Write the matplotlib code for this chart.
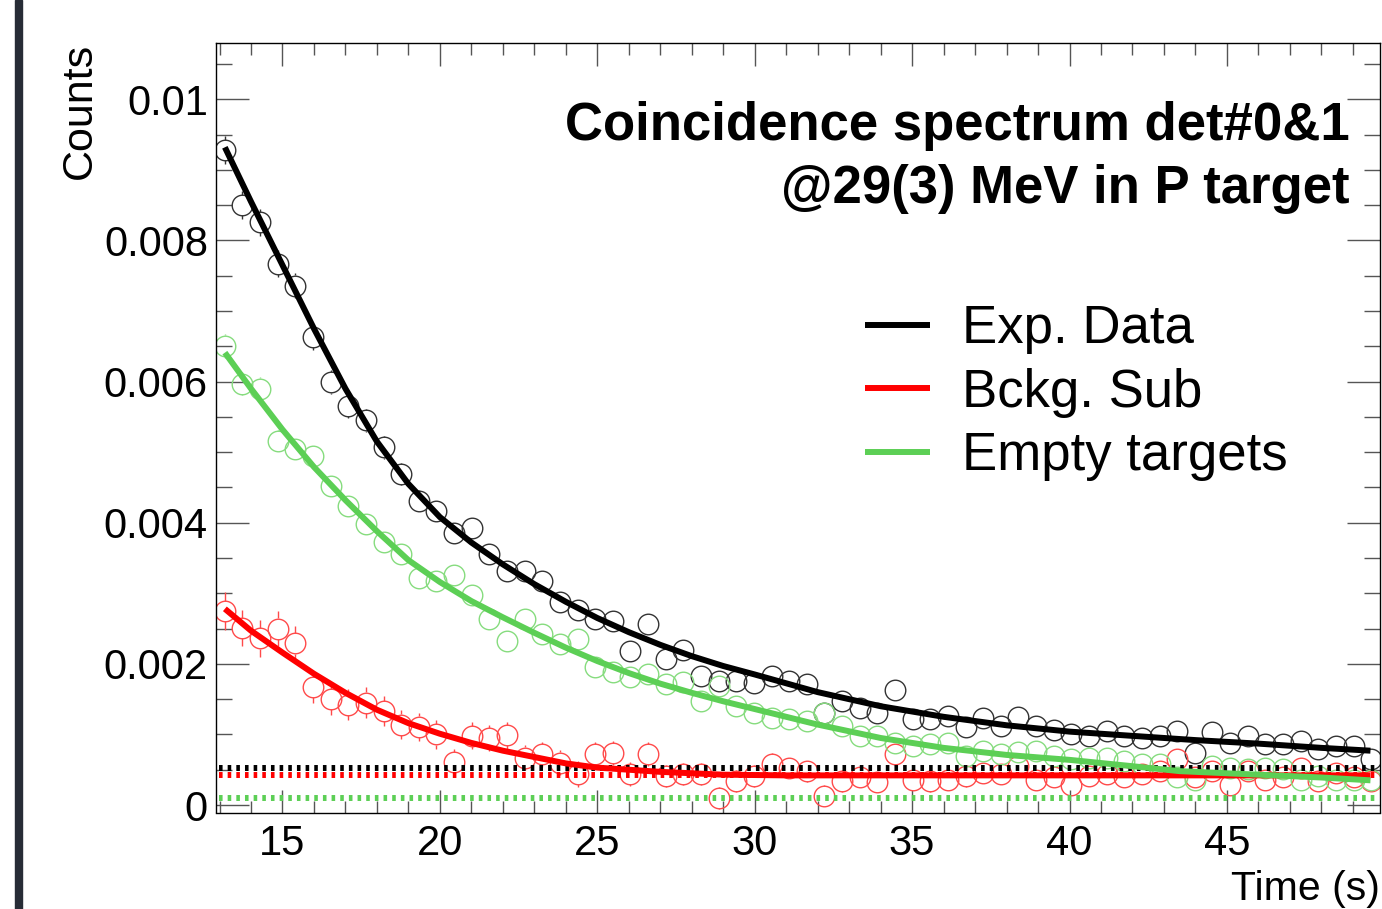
import numpy as np
import matplotlib
matplotlib.use("Agg")
import matplotlib.pyplot as plt
from matplotlib.lines import Line2D
from matplotlib.patches import Rectangle
from matplotlib.ticker import MultipleLocator, FuncFormatter

plt.rcParams['font.family'] = ['Liberation Sans', 'DejaVu Sans']

# histogram binning of the time axis (s)
t_lo, t_hi, n_bins = 12.888, 49.863, 66

# Exp. Data (black)
exp_counts = [0.00928, 0.00850, 0.00826, 0.00767, 0.00736, 0.00663, 0.00599, 0.00566, 0.00545, 0.00507,
              0.00469, 0.00431, 0.00417, 0.00386, 0.00392, 0.00356, 0.00332, 0.00331, 0.00318, 0.00288,
              0.00276, 0.00263, 0.00261, 0.00218, 0.00256, 0.00207, 0.00220, 0.00183, 0.00176, 0.00176,
              0.00173, 0.00183, 0.00176, 0.00171, 0.00131, 0.00148, 0.00138, 0.00131, 0.00163, 0.00122,
              0.00122, 0.00126, 0.00110, 0.00124, 0.00112, 0.00125, 0.00112, 0.00107, 0.00100, 0.00098,
              0.00105, 0.00098, 0.00095, 0.00098, 0.00105, 0.00074, 0.00103, 0.00088, 0.00098, 0.00086,
              0.00086, 0.00091, 0.00079, 0.00084, 0.00084, 0.00065]
exp_err = [0.00020, 0.00020, 0.00019, 0.00019, 0.00018, 0.00018, 0.00017, 0.00017, 0.00016, 0.00016,
           0.00015, 0.00015, 0.00015, 0.00014, 0.00014, 0.00014, 0.00013, 0.00013, 0.00013, 0.00013,
           0.00012, 0.00012, 0.00012, 0.00012, 0.00012, 0.00011, 0.00011, 0.00011, 0.00011, 0.00011,
           0.00011, 0.00011, 0.00011, 0.00010, 0.00010, 0.00010, 0.00010, 0.00010, 0.00010, 0.00010,
           0.00010, 0.00010, 0.00009, 0.00009, 0.00009, 0.00009, 0.00009, 0.00009, 0.00009, 0.00009,
           0.00009, 0.00009, 0.00009, 0.00009, 0.00009, 0.00008, 0.00009, 0.00008, 0.00009, 0.00008,
           0.00008, 0.00008, 0.00008, 0.00008, 0.00008, 0.00007]

# Bckg. Sub (red)
sub_counts = [0.00275, 0.00251, 0.00236, 0.00250, 0.00229, 0.00167, 0.00150, 0.00142, 0.00145, 0.00133,
              0.00114, 0.00111, 0.00100, 0.00061, 0.00098, 0.00095, 0.00099, 0.00067, 0.00072, 0.00060,
              0.00044, 0.00072, 0.00074, 0.00044, 0.00072, 0.00041, 0.00044, 0.00044, 0.00010, 0.00034,
              0.00041, 0.00058, 0.00053, 0.00048, 0.00013, 0.00034, 0.00039, 0.00032, 0.00072, 0.00036,
              0.00034, 0.00036, 0.00041, 0.00046, 0.00044, 0.00055, 0.00036, 0.00039, 0.00029, 0.00041,
              0.00044, 0.00039, 0.00044, 0.00048, 0.00065, 0.00039, 0.00048, 0.00029, 0.00048, 0.00036,
              0.00039, 0.00053, 0.00034, 0.00046, 0.00039, 0.00034]
sub_err = [0.00027, 0.00026, 0.00026, 0.00025, 0.00025, 0.00023, 0.00022, 0.00022, 0.00022, 0.00021,
           0.00021, 0.00020, 0.00020, 0.00019, 0.00019, 0.00019, 0.00019, 0.00018, 0.00018, 0.00018,
           0.00018, 0.00017, 0.00017, 0.00017, 0.00017, 0.00016, 0.00016, 0.00016, 0.00016, 0.00016,
           0.00016, 0.00016, 0.00015, 0.00015, 0.00015, 0.00015, 0.00015, 0.00015, 0.00015, 0.00015,
           0.00015, 0.00015, 0.00015, 0.00014, 0.00014, 0.00014, 0.00014, 0.00014, 0.00014, 0.00014,
           0.00014, 0.00014, 0.00014, 0.00014, 0.00014, 0.00014, 0.00014, 0.00014, 0.00014, 0.00014,
           0.00014, 0.00014, 0.00014, 0.00014, 0.00014, 0.00014]

# Empty targets (green)
empty_counts = [0.00651, 0.00597, 0.00590, 0.00516, 0.00504, 0.00495, 0.00452, 0.00424, 0.00398, 0.00372,
                0.00356, 0.00322, 0.00317, 0.00326, 0.00297, 0.00263, 0.00233, 0.00263, 0.00242, 0.00228,
                0.00235, 0.00195, 0.00188, 0.00181, 0.00185, 0.00171, 0.00175, 0.00148, 0.00168, 0.00140,
                0.00131, 0.00124, 0.00122, 0.00119, 0.00131, 0.00112, 0.00098, 0.00098, 0.00088, 0.00084,
                0.00086, 0.00088, 0.00070, 0.00077, 0.00072, 0.00075, 0.00077, 0.00070, 0.00065, 0.00066,
                0.00067, 0.00062, 0.00058, 0.00058, 0.00039, 0.00036, 0.00055, 0.00053, 0.00051, 0.00053,
                0.00051, 0.00036, 0.00041, 0.00036, 0.00036, 0.00036]
empty_err = [0.00017, 0.00016, 0.00016, 0.00015, 0.00015, 0.00015, 0.00014, 0.00014, 0.00013, 0.00013,
             0.00013, 0.00012, 0.00012, 0.00012, 0.00012, 0.00011, 0.00011, 0.00011, 0.00011, 0.00010,
             0.00010, 0.00010, 0.00010, 0.00010, 0.00010, 0.00009, 0.00009, 0.00009, 0.00009, 0.00009,
             0.00008, 0.00008, 0.00008, 0.00008, 0.00008, 0.00008, 0.00007, 0.00007, 0.00007, 0.00007,
             0.00007, 0.00007, 0.00006, 0.00006, 0.00006, 0.00006, 0.00006, 0.00006, 0.00006, 0.00006,
             0.00006, 0.00006, 0.00006, 0.00006, 0.00005, 0.00005, 0.00005, 0.00005, 0.00005, 0.00005,
             0.00005, 0.00005, 0.00005, 0.00005, 0.00005, 0.00005]

# fitted curves
exp_fit_t = [13.17, 14, 15, 16, 17, 18, 19, 20, 21, 22, 23, 24, 25, 26, 27, 28, 29, 30,
             32, 34, 36, 38, 40, 42, 44, 46, 48, 49.56]
exp_fit_y = [0.00932, 0.00855, 0.00765, 0.00675, 0.00590, 0.00515, 0.00455, 0.00408, 0.00372, 0.00341,
             0.00313, 0.00288, 0.00265, 0.00245, 0.00227, 0.00211, 0.00197, 0.00185,
             0.00160, 0.00140, 0.00125, 0.00113, 0.00104, 0.00098, 0.00092, 0.00087, 0.00081, 0.00077]

sub_fit_t = [13.17, 14, 15, 16, 17, 18, 19, 20, 21, 22, 23, 24, 25, 26, 27, 28, 29, 31, 49.56]
sub_fit_y = [0.00278, 0.00247, 0.00216, 0.00186, 0.00159, 0.00135, 0.00116, 0.00101, 0.00088, 0.00077,
             0.00068, 0.00059, 0.00053, 0.00050, 0.00047, 0.00045, 0.00043, 0.00042, 0.00042]

empty_fit_t = [13.17, 14, 15, 16, 17, 18, 19, 20, 21, 22, 23, 24, 25, 26, 27, 28, 29, 30,
               32, 34, 36, 38, 40, 42, 43.5, 46, 48, 49.56]
empty_fit_y = [0.00641, 0.00590, 0.00532, 0.00479, 0.00432, 0.00388, 0.00347, 0.00316, 0.00289, 0.00266,
               0.00244, 0.00223, 0.00204, 0.00187, 0.00172, 0.00159, 0.00147, 0.00136,
               0.00114, 0.00095, 0.00081, 0.00071, 0.00064, 0.00055, 0.00048, 0.00043, 0.00039, 0.00035]

# constant (background) levels, dotted
exp_bkg, sub_bkg, empty_bkg = 0.00052, 0.000425, 0.000095

labels = ["Exp. Data", "Bckg. Sub", "Empty targets"]
line_colors = ["black", "#ff0000", "#5ccf55"]
mark_colors = ["#333333", "#ff4a4a", "#86dc7e"]

W, H, DPI = 1382, 909, 100
fig = plt.figure(figsize=(W / DPI, H / DPI), dpi=DPI)
ax = fig.add_axes([216 / W, 1 - 812.5 / H, 1164 / W, 769.5 / H])

ymin, ymax = -0.000106, 0.010798
ax.set_xlim(t_lo, t_hi)
ax.set_ylim(ymin, ymax)

# bin centres of the histogram
edges = np.linspace(t_lo, t_hi, n_bins + 1)
t = 0.5 * (edges[:-1] + edges[1:])

ms = 14.8
# marker radius in data units, error bars are drawn outside the circle only
r = (ms / 2 * DPI / 72) / (769.5 / (ymax - ymin))

series = [(exp_counts, exp_err), (sub_counts, sub_err), (empty_counts, empty_err)]
for (yv, ye), mc in zip(series, mark_colors):
    yv = np.array(yv)
    ye = np.array(ye)
    big = ye > r
    ax.vlines(t[big], yv[big] + r, yv[big] + ye[big], color=mc, lw=1.0)
    ax.vlines(t[big], yv[big] - ye[big], yv[big] - r, color=mc, lw=1.0)
    ax.plot(t, yv, 'o', mfc='none', mec=mc, ms=ms, mew=1.0, ls='none')

dot_style = dict(lw=4.3, dashes=(0.6, 0.85), dash_capstyle='butt')
ax.plot([t_lo + 0.1, t_hi - 0.05], [empty_bkg, empty_bkg], color=line_colors[2], **dot_style)
ax.plot([t_lo + 0.1, t_hi - 0.05], [sub_bkg, sub_bkg], color=line_colors[1], **dot_style)
ax.plot([t_lo + 0.1, t_hi - 0.05], [exp_bkg, exp_bkg], color=line_colors[0], **dot_style)

fits = [(exp_fit_t, exp_fit_y), (sub_fit_t, sub_fit_y), (empty_fit_t, empty_fit_y)]
for (ft, fy), lc in zip(fits, line_colors):
    ax.plot(ft, fy, color=lc, lw=4.3, solid_capstyle='butt')

# axes cosmetics, ROOT like ticks on all sides
ax.xaxis.set_major_locator(MultipleLocator(5))
ax.xaxis.set_minor_locator(MultipleLocator(1))
ax.yaxis.set_major_locator(MultipleLocator(0.002))
ax.yaxis.set_minor_locator(MultipleLocator(0.0005))
ax.yaxis.set_major_formatter(FuncFormatter(lambda v, p: "%g" % round(v, 6)))
ax.tick_params(which='both', direction='in', top=True, right=True, color='#555555', width=1.0)
ax.tick_params(axis='x', which='major', length=16.5, labelsize=30, pad=8)
ax.tick_params(axis='x', which='minor', length=8.3)
ax.tick_params(axis='y', which='major', length=23.8, labelsize=30, pad=5.8)
ax.tick_params(axis='y', which='minor', length=11.5)
for sp in ax.spines.values():
    sp.set_linewidth(1.0)

ax.set_xlabel("Time (s)", fontsize=29.5, ha='right', va='top')
ax.xaxis.set_label_coords(1.0, -0.0744)
ax.set_ylabel("Counts", fontsize=31, ha='right', va='bottom')
ax.yaxis.set_label_coords(-0.100, 1.0)

ax.text(0.974, 0.874, "Coincidence spectrum det#0&1", transform=ax.transAxes,
        ha='right', va='baseline', fontsize=38, fontweight='bold')
ax.text(0.974, 0.792, "@29(3) MeV in P target", transform=ax.transAxes,
        ha='right', va='baseline', fontsize=38, fontweight='bold')

handles = [Line2D([], [], color=c, lw=4.3, solid_capstyle='butt') for c in line_colors]
ax.legend(handles, labels, loc='upper left', bbox_to_anchor=(0.5575, 0.6605), frameon=False,
          fontsize=38, handlelength=1.23, handletextpad=0.6, borderpad=0, borderaxespad=0,
          labelspacing=0.256)

# dark strip at the left edge of the screenshot
fig.patches.append(Rectangle((15 / W, 0), 7 / W, 1, transform=fig.transFigure,
                             color='#272c36', zorder=5))

fig.savefig("out.png", dpi=DPI)
